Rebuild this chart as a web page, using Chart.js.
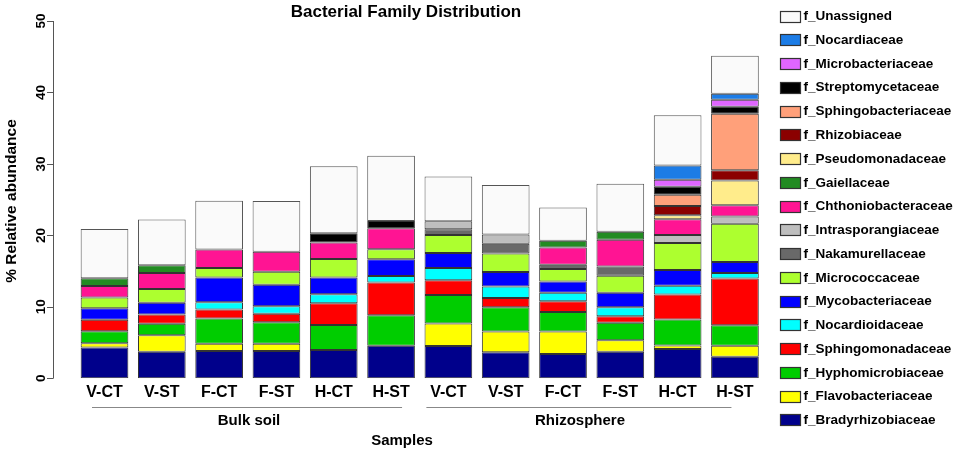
<!DOCTYPE html>
<html>
<head>
<meta charset="utf-8">
<script src="https://cdn.jsdelivr.net/npm/chart.js@4.4.1/dist/chart.umd.min.js"></script>
<style>
html,body{margin:0;padding:0;background:#fff;}
#wrap{width:957px;height:454px;position:relative;}
</style>
</head>
<body>
<div id="wrap"><canvas id="grafico"></canvas></div>
<script>
// muestras (6 de suelo, 6 de rizosfera)
const muestras = ['V-CT','V-ST','F-CT','F-ST','H-CT','H-ST','V-CT','V-ST','F-CT','F-ST','H-CT','H-ST'];
const grupos = ['Bulk soil', 'Rhizosphere'];
const ticksY = [0, 10, 20, 30, 40, 50];

// % abundancia relativa por familia, de abajo hacia arriba en cada barra
const bradyrhizobiaceae   = [4.3, 3.73, 3.83, 3.83, 3.97, 4.57, 4.53, 3.64, 3.41, 3.73, 4.1, 3.03];
const flavobacteriaceae   = [0.6, 2.3, 1.0, 1.0, 0, 0, 3.13, 2.9, 3.13, 1.59, 0.5, 1.54];
const hyphomicrobiaceae   = [1.7, 1.6, 3.55, 3.0, 3.5, 4.25, 4.0, 3.4, 2.75, 2.47, 3.64, 2.85];
const sphingomonadaceae   = [1.6, 1.3, 1.26, 1.2, 3.03, 4.6, 2.05, 1.3, 1.5, 0.88, 3.5, 6.54];
const nocardioidaceae     = [0, 0, 1.0, 1.07, 1.26, 0.9, 1.73, 1.59, 1.17, 1.26, 1.22, 0.79];
const mycobacteriaceae    = [1.6, 1.65, 3.45, 3.0, 2.33, 2.33, 2.1, 2.05, 1.59, 2.05, 2.19, 1.54];
const micrococcaceae      = [1.5, 1.9, 1.35, 1.8, 2.6, 1.4, 2.52, 2.6, 1.73, 2.38, 3.78, 5.32];
const nakamurellaceae     = [0, 0, 0, 0, 0, 0, 0.8, 1.36, 0.6, 1.3, 0, 0];
const intrasporangiaceae  = [0, 0, 0, 0, 0, 0, 1.12, 1.3, 0, 0, 1.12, 1.03];
const chthoniobacteraceae = [1.6, 2.25, 2.6, 2.8, 2.3, 2.95, 0, 0, 2.43, 3.73, 2.2, 1.59];
const gaiellaceae         = [1.1, 1.1, 0, 0, 0, 0, 0, 0, 0.93, 1.12, 0, 0];
const pseudomonadaceae    = [0, 0, 0, 0, 0, 0, 0, 0, 0, 0, 0.56, 3.45];
const rhizobiaceae        = [0, 0, 0, 0, 0, 0, 0, 0, 0, 0, 1.31, 1.45];
const sphingobacteriaceae = [0, 0, 0, 0, 0, 0, 0, 0, 0, 0, 1.58, 7.89];
const streptomycetaceae   = [0, 0, 0, 0, 1.3, 1.0, 0, 0, 0, 0, 1.12, 0.98];
const microbacteriaceae   = [0, 0, 0, 0, 0, 0, 0, 0, 0, 0, 0.98, 0.98];
const nocardiaceae        = [0, 0, 0, 0, 0, 0, 0, 0, 0, 0, 1.97, 0.84];
const unassigned          = [6.9, 6.4, 6.8, 7.1, 9.4, 9.15, 6.26, 6.9, 4.67, 6.72, 7.04, 5.32];

const familias = [
    ['f_Bradyrhizobiaceae', bradyrhizobiaceae, '#00008B'],
    ['f_Flavobacteriaceae', flavobacteriaceae, '#FFFF00'],
    ['f_Hyphomicrobiaceae', hyphomicrobiaceae, '#00CD00'],
    ['f_Sphingomonadaceae', sphingomonadaceae, '#FF0000'],
    ['f_Nocardioidaceae', nocardioidaceae, '#00FFFF'],
    ['f_Mycobacteriaceae', mycobacteriaceae, '#0000FF'],
    ['f_Micrococcaceae', micrococcaceae, '#ADFF2F'],
    ['f_Nakamurellaceae', nakamurellaceae, '#696969'],
    ['f_Intrasporangiaceae', intrasporangiaceae, '#BEBEBE'],
    ['f_Chthoniobacteraceae', chthoniobacteraceae, '#FF1493'],
    ['f_Gaiellaceae', gaiellaceae, '#228B22'],
    ['f_Pseudomonadaceae', pseudomonadaceae, '#FFEC8B'],
    ['f_Rhizobiaceae', rhizobiaceae, '#8B0000'],
    ['f_Sphingobacteriaceae', sphingobacteriaceae, '#FFA07A'],
    ['f_Streptomycetaceae', streptomycetaceae, '#000000'],
    ['f_Microbacteriaceae', microbacteriaceae, '#E066FF'],
    ['f_Nocardiaceae', nocardiaceae, '#1C7CE6'],
    ['f_Unassigned', unassigned, '#FAFAFA'],
];

const FUENTE = "'Liberation Sans', Arial, sans-serif";
Chart.defaults.font.family = FUENTE;
Chart.defaults.color = '#000';

// ejes, títulos y leyenda dibujados a mano sobre las escalas del gráfico
const extras = {
    id: 'extras',
    afterDraw(chart) {
        const ctx = chart.ctx;
        const x = chart.scales.x, y = chart.scales.y;
        ctx.save();

        // eje y
        ctx.strokeStyle = '#555';
        ctx.lineWidth = 1;
        ctx.beginPath();
        ctx.moveTo(53.5, y.getPixelForValue(ticksY[0]));
        ctx.lineTo(53.5, y.getPixelForValue(ticksY[ticksY.length - 1]));
        ticksY.forEach(v => {
            const py = Math.round(y.getPixelForValue(v)) + 0.5;
            ctx.moveTo(47, py);
            ctx.lineTo(53.5, py);
        });
        ctx.stroke();

        ctx.fillStyle = '#000';
        ctx.textAlign = 'center';
        ctx.textBaseline = 'middle';
        ctx.font = 'bold 13.5px ' + FUENTE;
        ticksY.forEach(v => {
            ctx.save();
            ctx.translate(41, y.getPixelForValue(v));
            ctx.rotate(-Math.PI / 2);
            ctx.fillText(String(v), 0, 0);
            ctx.restore();
        });

        ctx.font = 'bold 15.5px ' + FUENTE;
        ctx.save();
        ctx.translate(12, 201);
        ctx.rotate(-Math.PI / 2);
        ctx.fillText('% Relative abundance', 0, 0);
        ctx.restore();

        // título
        ctx.font = 'bold 17px ' + FUENTE;
        ctx.fillText('Bacterial Family Distribution', 406, 12.5);

        // líneas de grupo
        ctx.strokeStyle = '#888';
        ctx.beginPath();
        ctx.moveTo(x.getPixelForValue(0) - 12.5, 407.5);
        ctx.lineTo(x.getPixelForValue(5) + 11, 407.5);
        ctx.moveTo(x.getPixelForValue(6) - 22, 407.5);
        ctx.lineTo(x.getPixelForValue(11) - 3.5, 407.5);
        ctx.stroke();

        ctx.font = 'bold 15px ' + FUENTE;
        ctx.fillText(grupos[0], 249, 421);
        ctx.fillText(grupos[1], 580, 421);
        ctx.fillText('Samples', 402, 441);

        // leyenda (de arriba hacia abajo: último dataset primero)
        ctx.textAlign = 'left';
        ctx.font = 'bold 13.5px ' + FUENTE;
        const ds = chart.data.datasets.slice().reverse();
        ds.forEach((d, i) => {
            const cy = 16 + i * 23.76;
            ctx.fillStyle = d.backgroundColor;
            ctx.fillRect(780.5, Math.round(cy - 5.5) + 0.5, 20, 11);
            ctx.strokeStyle = '#333';
            ctx.lineWidth = 1.2;
            ctx.strokeRect(780.5, Math.round(cy - 5.5) + 0.5, 20, 11);
            ctx.fillStyle = '#000';
            ctx.fillText(d.label, 803.5, cy + 0.5);
        });
        ctx.restore();
    }
};

const ctx = document.getElementById('grafico');
new Chart(ctx, {
    type: 'bar',
    data: {
        labels: muestras,
        datasets: familias.map(f => ({
            label: f[0],
            data: f[1].map(v => v === 0 ? null : v),
            backgroundColor: f[2],
            borderColor: f[0] === 'f_Unassigned' ? '#555' : '#333',
            borderWidth: 1,
            borderSkipped: false,
            barPercentage: 0.832,
            categoryPercentage: 1,
        })),
    },
    options: {
        responsive: true,
        maintainAspectRatio: false,
        animation: false,
        devicePixelRatio: 1,
        layout: { padding: { left: 75.85, right: 193.4, top: 21, bottom: 0 } },
        plugins: {
            legend: { display: false },
            title: { display: false },
            tooltip: { enabled: false },
        },
        scales: {
            x: {
                stacked: true,
                grid: { display: false, drawTicks: false },
                border: { display: false },
                ticks: { padding: 5, font: { size: 16, weight: 'bold' }, color: '#000', maxRotation: 0, autoSkip: false },
                afterFit(scale) { scale.height = 75.7; },
            },
            y: {
                stacked: true,
                display: false,
                min: 0,
                max: 50,
            },
        },
    },
    plugins: [extras],
});
</script>
</body>
</html>
